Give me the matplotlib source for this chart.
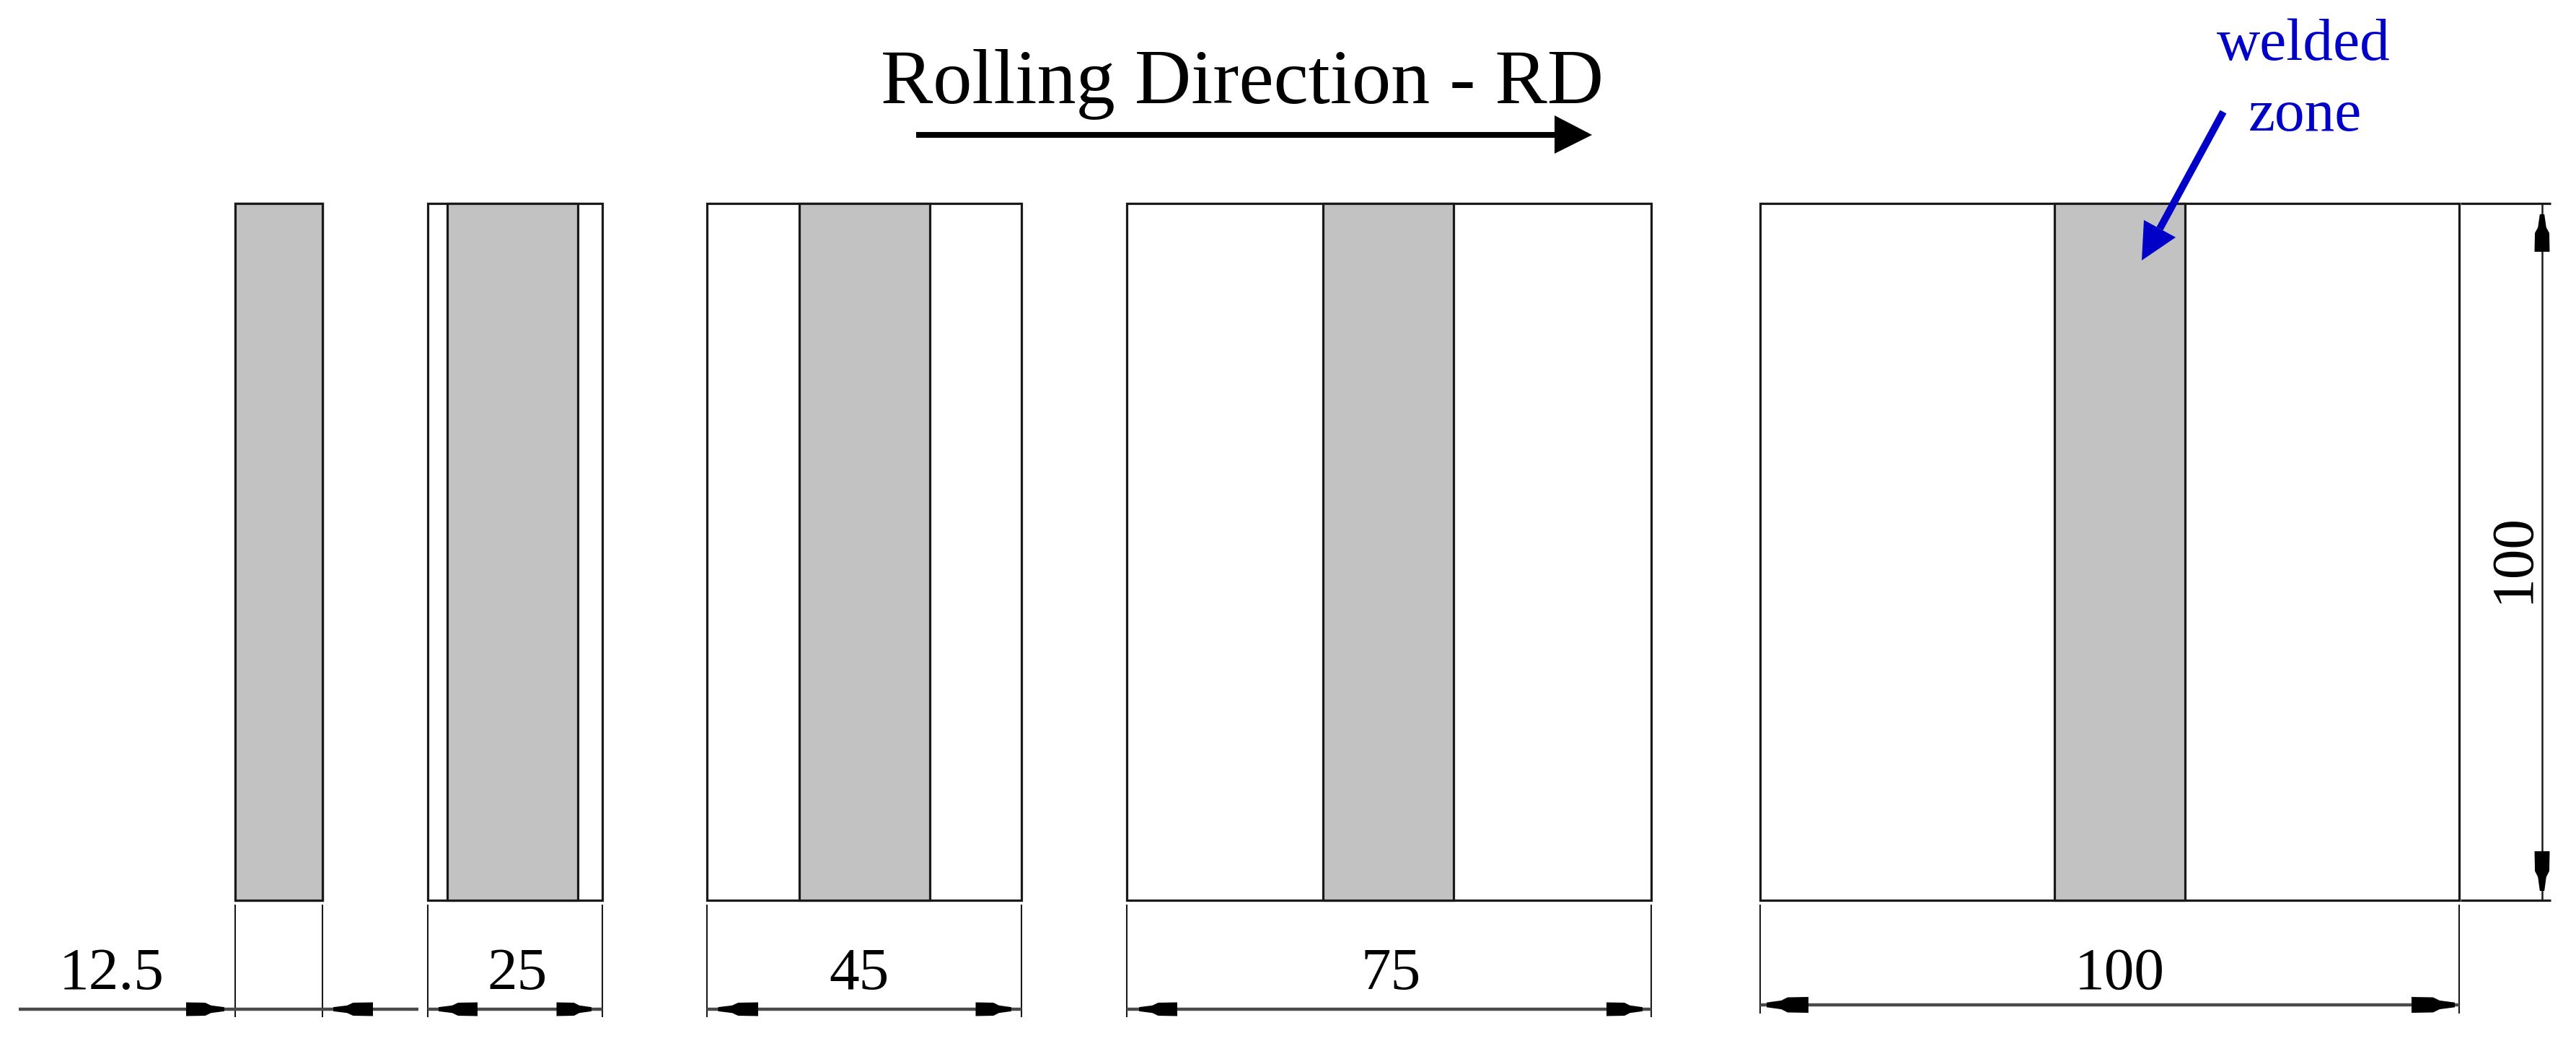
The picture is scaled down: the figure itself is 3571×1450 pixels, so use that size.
import matplotlib
matplotlib.use("Agg")
import matplotlib.pyplot as plt
from matplotlib.patches import Polygon, Rectangle

# specimen data, mm
widths = [12.5, 25, 45, 75, 100]
labels = ["12.5", "25", "45", "75", "100"]
height_mm = 100
weld_width = 18.7

# layout in pixels of the picture
W, H = 3571, 1450
PX_X = 9.69
PX_Y = 9.66
lefts = [326, 592.5, 980, 1562, 2440]
weld_lefts = [326, 620, 1108, 1834, 2848]
label_x = [155, 717, 1191, 1928, 2938]
dim_ys = [1399, 1399, 1399, 1399, 1393]
ext_ends = [1410, 1410, 1410, 1410, 1405]
# (tip, base) of left and right arrow heads
left_heads = [(311, 258), (608, 662), (995.5, 1051), (1579, 1632), (2449, 2507)]
right_heads = [(462, 517), (820, 771.5), (1402, 1352.5), (2277, 2227), (3403, 3343)]
top = 282
bottom = top + height_mm * PX_Y

DARK = "#1a1a1a"
DIM = "#4a4a4a"
BLUE = "#0000c8"
GRAY = "#c2c2c2"

plt.rcParams["font.family"] = ["Liberation Serif", "DejaVu Serif"]

fig = plt.figure(figsize=(W / 100, H / 100), dpi=100)
ax = fig.add_axes([0, 0, 1, 1])
ax.set_xlim(0, W)
ax.set_ylim(H, 0)
ax.axis("off")


def arrow_head(tip, base, pos, half, vertical=False):
    # CAD style head: wide base, then a blunt taper to the tip
    stops = [(0, 0.3), (0.35, 0.55), (0.5, 0.95), (1, 1)]
    along = [(tip + (base - tip) * t, half * h) for t, h in stops]
    pts = [(a, pos - h) for a, h in along] + [(a, pos + h) for a, h in reversed(along)]
    if vertical:
        pts = [(p, a) for a, p in pts]
    ax.add_patch(Polygon(pts, closed=True, fc="black", ec="none", zorder=5))


for i, width in enumerate(widths):
    left = lefts[i]
    right = left + width * PX_X
    dim_y = dim_ys[i]
    ww = min(weld_width, width) * PX_X
    ax.add_patch(Rectangle((left, top), right - left, bottom - top, fc="white", ec=DARK, lw=2.3, zorder=2))
    ax.add_patch(Rectangle((weld_lefts[i], top), ww, bottom - top, fc=GRAY, ec=DARK, lw=2.3, zorder=3))
    # extension lines
    for x in (left, right):
        ax.plot([x, x], [bottom + 6, ext_ends[i]], color=DARK, lw=1.5, zorder=2, solid_capstyle="butt")
    # the first dimension sits outside its extension lines
    x0, x1 = (26, 580) if i == 0 else (left, right)
    ax.plot([x0, x1], [dim_y, dim_y], color=DIM, lw=3.2, zorder=2, solid_capstyle="butt")
    half = 11 if i == len(widths) - 1 else 9.5
    arrow_head(*left_heads[i], dim_y, half)
    arrow_head(*right_heads[i], dim_y, half)
    ax.text(label_x[i], 1371, labels[i], fontsize=60, ha="center", va="baseline", color="black")

# right side height dimension
right_x = 3524
for y in (top, bottom):
    ax.plot([3411, 3536], [y, y], color=DARK, lw=2.3, zorder=2, solid_capstyle="butt")
ax.plot([right_x, right_x], [top, bottom], color=DARK, lw=1.8, zorder=2)
arrow_head(297, 349, right_x, 10.5, vertical=True)
arrow_head(1235, 1180, right_x, 10.5, vertical=True)
ax.text(3485, 773, "100", fontsize=60, rotation=90, ha="center", va="center", color="black")

# rolling direction
ax.text(1722, 143, "Rolling Direction - RD", fontsize=78, ha="center", va="baseline", color="black")
ax.plot([1270, 2160], [187, 187], color="black", lw=5.8, solid_capstyle="butt", zorder=4)
ax.add_patch(Polygon([(2207, 187), (2155, 160), (2155, 213)], closed=True, fc="black", ec="none", zorder=5))

# welded zone note
ax.text(3193, 83, "welded", fontsize=60, ha="center", va="baseline", color=BLUE)
ax.text(3195, 181, "zone", fontsize=60, ha="center", va="baseline", color=BLUE)
ax.plot([3082, 2994], [155, 317], color=BLUE, lw=7.2, solid_capstyle="butt", zorder=6)
ax.add_patch(Polygon([(2969, 361), (2972, 305), (3016, 329)], closed=True, fc=BLUE, ec="none", zorder=7))

fig.savefig("out.png", dpi=100, facecolor="white")
